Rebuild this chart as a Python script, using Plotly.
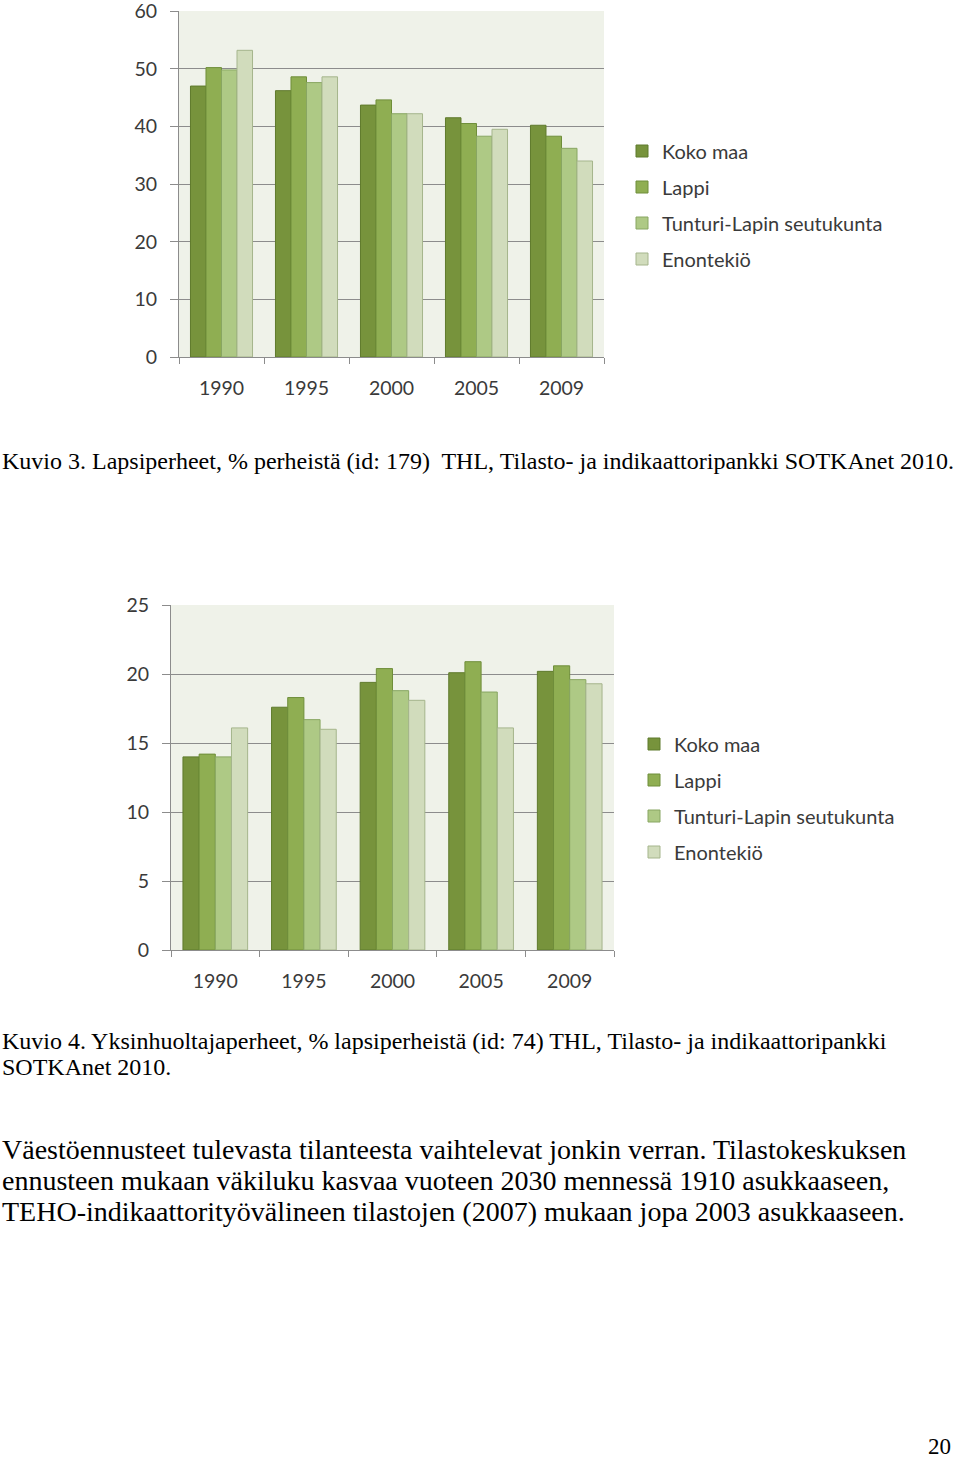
import plotly.graph_objects as go

W, H = 960, 1461

years = ["1990", "1995", "2000", "2005", "2009"]
series_names = ["Koko maa", "Lappi", "Tunturi-Lapin seutukunta", "Enontekiö"]

# Kuvio 3: Lapsiperheet, % perheistä
lapsi_koko = [47.0, 46.2, 43.7, 41.5, 40.2]
lapsi_lappi = [50.2, 48.6, 44.6, 40.5, 38.3]
lapsi_tunturi = [49.8, 47.6, 42.2, 38.3, 36.2]
lapsi_enontekio = [53.2, 48.6, 42.2, 39.5, 34.0]

# Kuvio 4: Yksinhuoltajaperheet, % lapsiperheistä
yksin_koko = [14.0, 17.6, 19.4, 20.1, 20.2]
yksin_lappi = [14.2, 18.3, 20.4, 20.9, 20.6]
yksin_tunturi = [14.0, 16.7, 18.8, 18.7, 19.6]
yksin_enontekio = [16.1, 16.0, 18.1, 16.1, 19.3]

chart1_ticks = [0, 10, 20, 30, 40, 50, 60]
chart2_ticks = [0, 5, 10, 15, 20, 25]

fill_colors = ["#77933C", "#8FAE52", "#AEC985", "#D1DCBC"]
line_colors = ["#5F7A2C", "#6F8E3A", "#88A662", "#A5B58C"]

caption3 = "Kuvio 3. Lapsiperheet, % perheistä (id: 179)\u00a0 THL, Tilasto- ja indikaattoripankki SOTKAnet 2010."
caption4 = ["Kuvio 4. Yksinhuoltajaperheet, % lapsiperheistä (id: 74) THL, Tilasto- ja indikaattoripankki",
            "SOTKAnet 2010."]
paragraph = ["Väestöennusteet tulevasta tilanteesta vaihtelevat jonkin verran. Tilastokeskuksen",
             "ennusteen mukaan väkiluku kasvaa vuoteen 2030 mennessä 1910 asukkaaseen,",
             "TEHO-indikaattorityövälineen tilastojen (2007) mukaan jopa 2003 asukkaaseen."]
page_no = "20"

chart_font = "Lato"
text_color = "#3A3A3A"
grid_color = "#8C8C8C"
plot_bg = "#EFF2E9"

fig = go.Figure()

data1 = [lapsi_koko, lapsi_lappi, lapsi_tunturi, lapsi_enontekio]
data2 = [yksin_koko, yksin_lappi, yksin_tunturi, yksin_enontekio]

for i, (name, vals) in enumerate(zip(series_names, data1)):
    fig.add_trace(go.Bar(
        x=years, y=vals, name=name, xaxis="x", yaxis="y",
        marker=dict(color=fill_colors[i], line=dict(color=line_colors[i], width=1)),
        legend="legend", legendgroup=f"a{i}", hoverinfo="y",
    ))
for i, (name, vals) in enumerate(zip(series_names, data2)):
    fig.add_trace(go.Bar(
        x=years, y=vals, name=name, xaxis="x2", yaxis="y2",
        marker=dict(color=fill_colors[i], line=dict(color=line_colors[i], width=1)),
        legend="legend2", legendgroup=f"b{i}", hoverinfo="y",
    ))

def py(pix):
    return 1 - pix / H

def px(pix):
    return pix / W

xaxis_common = dict(
    type="category", tickson="boundaries", ticks="outside", ticklen=6,
    tickcolor=grid_color, showline=True, linecolor=grid_color, linewidth=1,
    showgrid=False, tickfont=dict(family=chart_font, size=19.5, color=text_color),
    ticklabelstandoff=14, fixedrange=True, automargin=False,
)
yaxis_common = dict(
    ticks="outside", ticklen=8, tickcolor=grid_color, showline=True,
    linecolor=grid_color, linewidth=1, showgrid=True, gridcolor=grid_color,
    gridwidth=1, zeroline=False, tickfont=dict(family=chart_font, size=19.5, color=text_color),
    ticklabelstandoff=9, fixedrange=True, automargin=False, ticklabeloverflow="allow",
)

fig.update_layout(
    width=W, height=H, margin=dict(l=0, r=0, t=0, b=0, autoexpand=False),
    paper_bgcolor="white", plot_bgcolor=plot_bg,
    barmode="group", bargap=0.27, bargroupgap=0,
    xaxis=dict(domain=[px(179), px(604)], anchor="y", **xaxis_common),
    yaxis=dict(domain=[py(357), py(11)], anchor="x", range=[0, 60.02],
               tickvals=chart1_ticks, **yaxis_common),
    xaxis2=dict(domain=[px(171), px(614)], anchor="y2", **xaxis_common),
    yaxis2=dict(domain=[py(950), py(605)], anchor="x2", range=[0, 25.01],
                tickvals=chart2_ticks, **yaxis_common),
    legend=dict(x=px(622), y=py(205), xanchor="left", yanchor="middle",
                bgcolor="rgba(0,0,0,0)", tracegroupgap=7, traceorder="grouped",
                font=dict(family=chart_font, size=20, color=text_color)),
    legend2=dict(x=px(634), y=py(798), xanchor="left", yanchor="middle",
                 bgcolor="rgba(0,0,0,0)", tracegroupgap=7, traceorder="grouped",
                 font=dict(family=chart_font, size=20, color=text_color)),
    showlegend=True,
)

serif = "Liberation Serif"
annots = []
def add_text(txt, xpix, ypix, size, anchor="left"):
    annots.append(dict(text=txt, x=px(xpix), y=py(ypix), xref="paper", yref="paper",
                       xanchor=anchor, yanchor="middle", showarrow=False, borderpad=0,
                       font=dict(family=serif, size=size, color="black")))

add_text(caption3, 1, 461, 24)
add_text(caption4[0], 1, 1041, 24)
add_text(caption4[1], 1, 1067, 24)
for k, line in enumerate(paragraph):
    add_text(line, 1, 1149 + 31 * k, 28)
add_text(page_no, 952, 1446, 23, anchor="right")
fig.update_layout(annotations=annots)

fig.write_html("out.html", config={"displayModeBar": False, "staticPlot": False},
               post_script="document.body.style.margin='0';document.body.style.padding='0';")
